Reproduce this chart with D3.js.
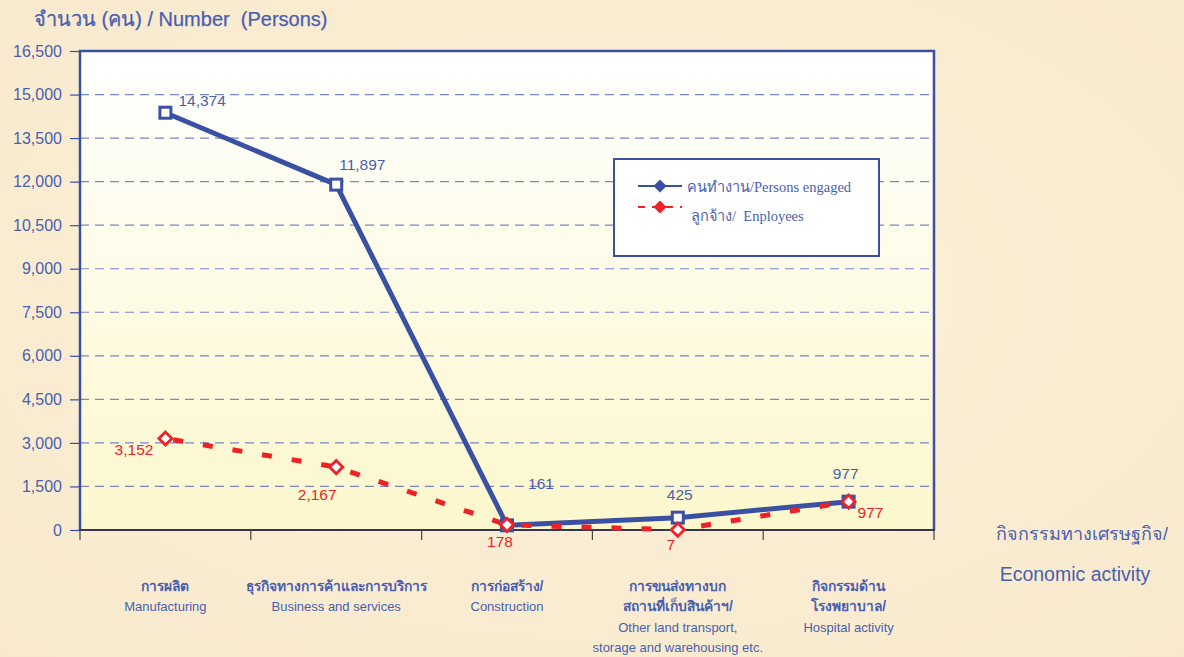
<!DOCTYPE html>
<html>
<head>
<meta charset="utf-8">
<script src="https://cdn.jsdelivr.net/npm/d3@7.9.0/dist/d3.min.js"></script>
<style>
  body { margin: 0; background: #fbeed4; }
  svg { display: block; font-family: Arial, "Liberation Sans", "Noto Sans", sans-serif; }
  text { white-space: pre; }
</style>
</head>
<body>
<svg id="chart" width="1184" height="657"></svg>
<script>
const categoriesTh = [
  ['การผลิต'],
  ['ธุรกิจทางการค้าและการบริการ'],
  ['การก่อสร้าง/'],
  ['การขนส่งทางบก', 'สถานที่เก็บสินค้าฯ/'],
  ['กิจกรรมด้าน', 'โรงพยาบาล/']
];
const categoriesEn = [
  ['Manufacturing'],
  ['Business and services'],
  ['Construction'],
  ['Other land transport,', 'storage and warehousing etc.'],
  ['Hospital activity']
];
const personsEngaged = [14374, 11897, 161, 425, 977];
const employees = [3152, 2167, 178, 7, 977];
const yTicks = [0, 1500, 3000, 4500, 6000, 7500, 9000, 10500, 12000, 13500, 15000, 16500];

const blue = '#3a50a2', red = '#ee2226', textBlue = '#4a5fb0';
const svg = d3.select('#chart');
const plotL = 80, plotR = 934, plotT = 51, plotB = 530;

// page background
const defs = svg.append('defs');
const bg = defs.append('radialGradient').attr('id', 'bg').attr('cx', '50%').attr('cy', '45%').attr('r', '80%');
bg.append('stop').attr('offset', '0%').attr('stop-color', '#fcf0d8');
bg.append('stop').attr('offset', '100%').attr('stop-color', '#f8e9cc');
svg.append('rect').attr('width', 1184).attr('height', 657).attr('fill', 'url(#bg)');

const plotGrad = defs.append('linearGradient').attr('id', 'plot').attr('x1', 0).attr('y1', 0).attr('x2', 0).attr('y2', 1);
plotGrad.append('stop').attr('offset', '0%').attr('stop-color', '#ffffff');
plotGrad.append('stop').attr('offset', '100%').attr('stop-color', '#fcf7cc');

const x = d3.scaleBand().domain(d3.range(categoriesEn.length)).range([plotL, plotR]);
const y = d3.scaleLinear().domain([0, 16500]).range([plotB, plotT]);
const cx = (i) => x(i) + x.bandwidth() / 2;

svg.append('rect').attr('x', plotL).attr('y', plotT).attr('width', plotR - plotL).attr('height', plotB - plotT)
  .attr('fill', 'url(#plot)');

// gridlines
svg.append('g').selectAll('line').data(yTicks.filter((d) => d > 0 && d < 16500)).join('line')
  .attr('x1', plotL).attr('x2', plotR).attr('y1', (d) => y(d)).attr('y2', (d) => y(d))
  .attr('stroke', '#7888c4').attr('stroke-width', 1.2).attr('stroke-dasharray', '9,6');

// frame
svg.append('path').attr('d', `M${plotL},${plotB}V${plotT}H${plotR}V${plotB}`)
  .attr('fill', 'none').attr('stroke', blue).attr('stroke-width', 2.5);

// y axis
const yAxis = svg.append('g').attr('transform', `translate(${plotL},0)`)
  .call(d3.axisLeft(y).tickValues(yTicks).tickSize(10).tickPadding(8).tickFormat(d3.format(',')));
yAxis.select('.domain').remove();
yAxis.selectAll('line').attr('stroke', blue).attr('stroke-width', 1.2);
yAxis.selectAll('text').attr('fill', textBlue).attr('font-size', 16);

// x axis
const xTicks = d3.range(categoriesEn.length + 1).map((i) => plotL + i * x.bandwidth());
svg.append('line').attr('x1', plotL - 1).attr('x2', plotR + 1).attr('y1', plotB).attr('y2', plotB)
  .attr('stroke', '#33374a').attr('stroke-width', 2);
svg.append('g').selectAll('line').data(xTicks).join('line')
  .attr('x1', (d) => d).attr('x2', (d) => d).attr('y1', plotB).attr('y2', plotB + 10)
  .attr('stroke', '#444').attr('stroke-width', 1.2);

// category labels
categoriesEn.forEach((en, i) => {
  const lines = categoriesTh[i].map((t) => ({ t, th: true })).concat(en.map((t) => ({ t, th: false })));
  svg.append('g').selectAll('text').data(lines).join('text')
    .attr('x', cx(i)).attr('y', (d, j) => 591 + j * 20.3)
    .attr('text-anchor', 'middle').attr('fill', textBlue)
    .attr('font-size', (d) => d.th ? 13.8 : 13)
    .attr('font-weight', (d) => d.th ? 'bold' : 'normal')
    .text((d) => d.t);
});

// titles
svg.append('text').attr('x', 34).attr('y', 26).attr('fill', textBlue).attr('font-size', 20)
  .attr('stroke', textBlue).attr('stroke-width', 0.25).text('จำนวน (คน) / Number  (Persons)');
svg.append('text').attr('x', 1082).attr('y', 540).attr('text-anchor', 'middle').attr('fill', textBlue)
  .attr('font-size', 18).text('กิจกรรมทางเศรษฐกิจ/');
svg.append('text').attr('x', 1075).attr('y', 581).attr('text-anchor', 'middle').attr('fill', textBlue)
  .attr('font-size', 19.5).text('Economic activity');

// lines
const line = d3.line().x((d, i) => cx(i)).y((d) => y(d));
svg.append('path').datum(personsEngaged).attr('d', line).attr('fill', 'none')
  .attr('stroke', blue).attr('stroke-width', 5).attr('stroke-linejoin', 'round');
svg.append('path').datum(employees).attr('d', line).attr('fill', 'none')
  .attr('stroke', red).attr('stroke-width', 5).attr('stroke-dasharray', '10,20').attr('stroke-dashoffset', -8);

// markers
svg.append('g').selectAll('rect').data(personsEngaged).join('rect')
  .attr('x', (d, i) => cx(i) - 5.5).attr('y', (d) => y(d) - 5.5).attr('width', 11).attr('height', 11)
  .attr('fill', '#fff').attr('stroke', blue).attr('stroke-width', 3);
const diamond = d3.symbol().type(d3.symbolDiamond2).size(110);
svg.append('g').selectAll('path').data(employees).join('path')
  .attr('d', diamond).attr('transform', (d, i) => `translate(${cx(i)},${y(d)})`)
  .attr('fill', '#fff').attr('stroke', red).attr('stroke-width', 2.8);

// value labels
const fmt = d3.format(',');
const blueOff = [[13, -7, 'start'], [3, -15, 'start'], [34, -36, 'middle'], [2, -18, 'middle'], [-3, -23, 'middle']];
const redOff = [[-12, 17, 'end'], [-19, 33, 'middle'], [-7, 22, 'middle'], [-7, 20, 'middle'], [9, 16, 'start']];
svg.append('g').selectAll('text').data(personsEngaged).join('text')
  .attr('x', (d, i) => cx(i) + blueOff[i][0]).attr('y', (d, i) => y(d) + blueOff[i][1])
  .attr('text-anchor', (d, i) => blueOff[i][2]).attr('fill', textBlue).attr('font-size', 15.5)
  .text((d) => fmt(d));
svg.append('g').selectAll('text').data(employees).join('text')
  .attr('x', (d, i) => cx(i) + redOff[i][0]).attr('y', (d, i) => y(d) + redOff[i][1])
  .attr('text-anchor', (d, i) => redOff[i][2]).attr('fill', red).attr('font-size', 15.5)
  .text((d) => fmt(d));

// legend
const lg = svg.append('g').attr('transform', 'translate(614,159)');
lg.append('rect').attr('width', 265).attr('height', 97).attr('fill', '#fff').attr('stroke', blue).attr('stroke-width', 2);
const legendItems = [
  { label: 'คนทำงาน/Persons engaged', color: blue, dash: null, y: 27, tx: 73 },
  { label: 'ลูกจ้าง/  Enployees', color: red, dash: '7,7', y: 48, tx: 77 }
];
legendItems.forEach((it) => {
  lg.append('line').attr('x1', 24).attr('x2', 68).attr('y1', it.y).attr('y2', it.y)
    .attr('stroke', it.color).attr('stroke-width', 2).attr('stroke-dasharray', it.dash);
  lg.append('path').attr('d', d3.symbol().type(d3.symbolDiamond2).size(110))
    .attr('transform', `translate(46,${it.y})`).attr('fill', it.color);
  lg.append('text').attr('x', it.tx).attr('y', it.y + (it.dash ? 14 : 6)).attr('fill', textBlue)
    .attr('font-family', '"Liberation Serif", "DejaVu Serif", serif').attr('font-size', 14.5).text(it.label);
});
</script>
</body>
</html>
